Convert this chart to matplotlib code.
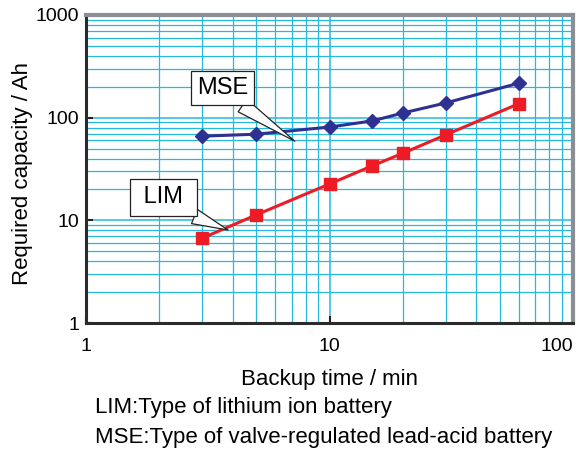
import matplotlib
matplotlib.use("Agg")
import matplotlib.pyplot as plt

plt.rcParams['font.family'] = ['Liberation Sans', 'DejaVu Sans']

# Backup time (min) and required capacity (Ah)
backup_time = [3, 5, 10, 15, 20, 30, 60]
mse_capacity = [66, 69, 81, 93, 111, 139, 217]
lim_capacity = [6.7, 11.3, 22.6, 34, 45, 68, 137]

x_ticks = [1, 10, 100]
y_ticks = [1, 10, 100, 1000]

grid_color = '#25b9df'

fig = plt.figure(figsize=(5.86, 4.5), dpi=100)
ax = fig.add_axes([0.1468, 0.2822, 0.831, 0.6845])

ax.set_xscale('log')
ax.set_yscale('log')
ax.set_xlim(1, 100)
ax.set_ylim(1, 1000)

ax.grid(True, which='major', color=grid_color, lw=1.1)
ax.grid(True, which='minor', color=grid_color, lw=0.9)
ax.set_axisbelow(True)

ax.plot(backup_time, mse_capacity, color='#2e3192', lw=2.2, marker='D', ms=7,
        zorder=3)
ax.plot(backup_time, lim_capacity, color='#ed1c24', lw=2.2, marker='s', ms=8,
        zorder=3)

ax.set_xticks(x_ticks)
ax.set_xticklabels([str(v) for v in x_ticks])
ax.set_yticks(y_ticks)
ax.set_yticklabels([str(v) for v in y_ticks])
ax.tick_params(which='minor', length=0)
ax.tick_params(which='major', direction='in', length=5, width=1.5,
               labelsize=14, color='#222222')
ax.tick_params(axis='x', pad=11)
ax.tick_params(axis='y', pad=5)
ax.get_xticklabels()[-1].set_ha('right')

for side in ['left', 'bottom']:
    ax.spines[side].set_color('#2b2b2b')
    ax.spines[side].set_linewidth(2.2)
for side in ['top', 'right']:
    ax.spines[side].set_color('#8a8f96')
    ax.spines[side].set_linewidth(3)

ax.set_xlabel('Backup time / min', fontsize=16, labelpad=10)
ax.set_ylabel('Required capacity / Ah', fontsize=16)
ax.yaxis.set_label_coords(-0.109, 0.484)

# callouts
arrow = dict(arrowstyle='wedge,tail_width=0.65', fc='white', ec='#222222',
             lw=0.9, shrinkA=0, shrinkB=0)
ax.annotate('MSE', xy=(7.2, 59), xytext=(3.65, 194), fontsize=17,
            ha='center', va='center',
            bbox=dict(boxstyle='square,pad=0.25', fc='white', ec='#222222',
                      lw=0.9),
            arrowprops=dict(arrow, relpos=(0.7, 0)), zorder=4)
ax.annotate(' LIM ', xy=(3.83, 8.05), xytext=(2.08, 16.7), fontsize=17,
            ha='center', va='center',
            bbox=dict(boxstyle='square,pad=0.32', fc='white', ec='#222222',
                      lw=0.9),
            arrowprops=dict(arrow, relpos=(0.71, 0)), zorder=4)

fig.text(95 / 586, 1 - 408 / 450, 'LIM:Type of lithium ion battery',
         fontsize=16, ha='left', va='center')
fig.text(95 / 586, 1 - 437 / 450,
         'MSE:Type of valve-regulated lead-acid battery',
         fontsize=16, ha='left', va='center')

fig.savefig('out.png', dpi=100)
